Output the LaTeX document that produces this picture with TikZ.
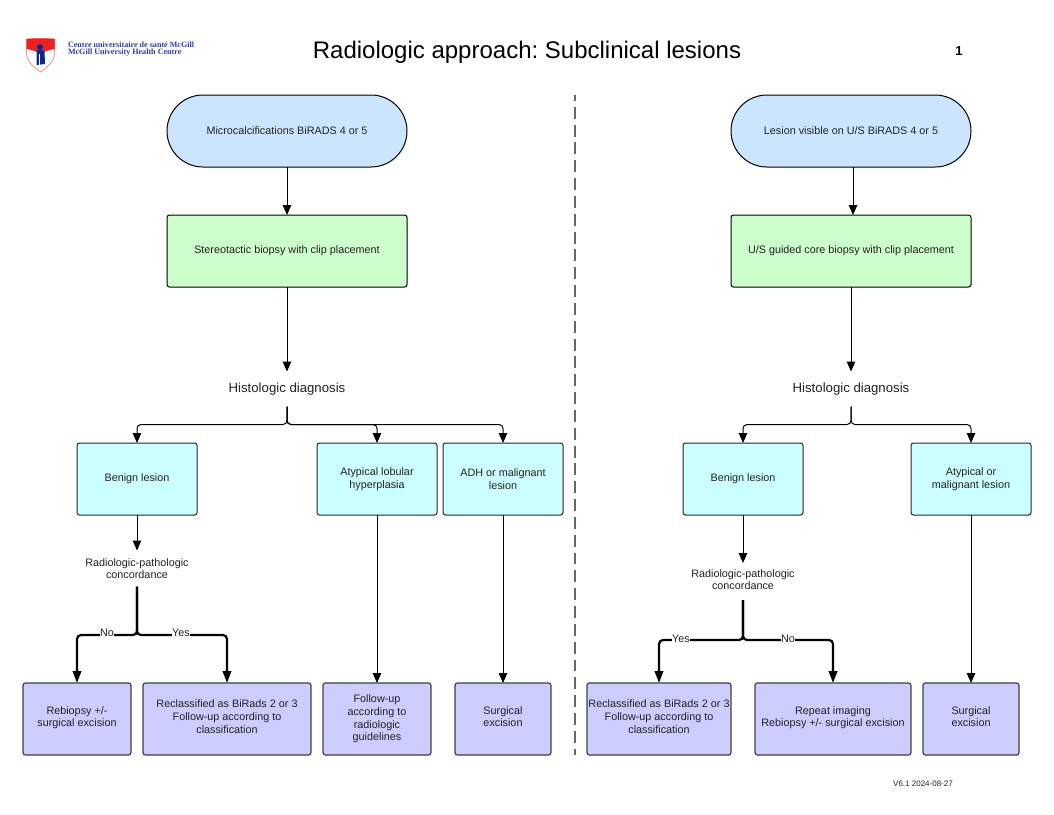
\documentclass[tikz,border=0pt]{standalone}
\usepackage{fontspec}
\setmainfont{Liberation Sans}
\newfontfamily\logofont{Liberation Serif}
\usetikzlibrary{arrows.meta,calc}
\frenchspacing
\definecolor{startc}{HTML}{CCE5FF}
\definecolor{procc}{HTML}{CCFFCC}
\definecolor{resc}{HTML}{CCFFFF}
\definecolor{endc}{HTML}{CCCCFF}
\definecolor{txtc}{HTML}{222222}
\definecolor{logoblue}{HTML}{2B3FB0}
\definecolor{logored}{HTML}{F02020}
\definecolor{logonavy}{HTML}{0B2A8C}
\newcommand\lowpad{\rule[-4.8pt]{0pt}{1pt}}
\tikzset{
  x=1pt,y=-1pt,
  every node/.style={font=\fontsize{10.8}{12.6}\selectfont,text=txtc,align=center,inner sep=0pt,outer sep=0pt},
  boxbase/.style={draw=black,line width=1pt,rounded corners=2.5pt},
  startbox/.style={boxbase,fill=startc,rounded corners=36pt,minimum width=240pt,minimum height=72pt},
  procbox/.style={boxbase,fill=procc,minimum width=240pt,minimum height=72pt},
  resbox/.style={boxbase,fill=resc,draw=black!85,minimum width=120pt,minimum height=72pt},
  endbox/.style={boxbase,fill=endc,minimum height=72pt,draw=black!75,line width=1.2pt},
  plainlbl/.style={minimum width=120pt},
  arr/.style={line width=1pt,-{Triangle[length=10pt,width=8.5pt]}},
  branch/.style={line width=1pt,rounded corners=4pt,-{Triangle[length=10pt,width=8.5pt]}},
  thickbranch/.style={line width=2.2pt,rounded corners=4pt,-{Triangle[length=12pt,width=8.5pt]}},
  edgelbl/.style={fill=white,inner sep=0.5pt}
}
\begin{document}
\begin{tikzpicture}
\useasboundingbox (0,0) rectangle (1054,814);
\fill[white] (0,0) rectangle (1054,814);
% logo
\fill[white,draw=logored!55,line width=0.7pt] (26.5,39) -- (54.5,39) -- (54.5,53) .. controls (54.5,62) and (46,68) .. (40.5,72) .. controls (35,68) and (26.5,62) .. (26.5,53) -- cycle;
\fill[logored] (26.5,39) .. controls (35,38) and (46,38) .. (54.5,39) -- (54.5,49) .. controls (48,50) and (44,52) .. (40.5,53) .. controls (37,52) and (33,50) .. (26.5,49) -- cycle;
\fill[logonavy] (40,47) circle (3pt);
\fill[logonavy] (36.5,50) .. controls (38,49.5) and (42,49.5) .. (44.5,51) -- (45,64) -- (36.5,65) -- cycle;
\fill[white] (38.8,54) rectangle (39.8,65);
\node[anchor=west,font=\logofont\bfseries\fontsize{8.1}{9}\selectfont,text=logoblue] (logoa) at (68,44.5) {Centre universitaire de santé McGill};
\node[anchor=west,font=\logofont\bfseries\fontsize{8.1}{9}\selectfont,text=logoblue] (logob) at (68,53) {McGill University Health Centre};
% headings
\node[font=\fontsize{24}{28}\selectfont,text=black] (title) at (527,52) {Radiologic approach: Subclinical lesions};
\node[font=\bfseries\fontsize{13}{15}\selectfont,text=black] (pagenum) at (959,51) {1};
\node[font=\fontsize{8}{10}\selectfont] (version) at (923,784) {V6.1 2024-08-27};
% divider
\coordinate (divtop) at (575,95);
\coordinate (divbot) at (575,755);
\draw[draw=black!60,line width=2.4pt,dash pattern=on 11.9pt off 5.93pt,dash phase=6pt] (divtop) -- (divbot);
% left column
\node[startbox] (ls) at (287,131) {Microcalcifications BiRADS 4 or 5};
\node[procbox] (lp) at (287,251) {Stereotactic biopsy with clip placement};
\node[plainlbl,font=\fontsize{13.2}{15}\selectfont,minimum height=35pt] (lh) at (287,389) {Histologic diagnosis};
\node[resbox] (lb) at (137,479) {Benign lesion};
\node[resbox] (la) at (377,479) {Atypical lobular\\hyperplasia};
\node[resbox] (lm) at (503,479) {ADH or malignant\\lesion};
\node[plainlbl,minimum height=36pt] (lc) at (137,568.5) {Radiologic-pathologic\\concordance};
\node[endbox,minimum width=108pt] (l1) at (77,719) {Rebiopsy +/-\\surgical excision\lowpad};
\node[endbox,minimum width=168pt] (l2) at (227,719) {Reclassified as BiRads 2 or 3\\Follow-up according to\\classification\lowpad};
\node[endbox,minimum width=108pt] (l3) at (377,719) {Follow-up\\according to\\radiologic\\guidelines};
\node[endbox,minimum width=96pt] (l4) at (503,719) {Surgical\\excision\lowpad};
\draw[arr] (ls) -- (lp);
\draw[arr] (lp) -- (lh);
\draw[branch] (lh.south) -- (287,424.5) -| (lb.north);
\draw[branch] (lh.south) -- (287,424.5) -| (la.north);
\draw[branch] (lh.south) -- (287,424.5) -| (lm.north);
\draw[arr] (lb) -- (lc);
\draw[arr] (la) -- (l3);
\draw[arr] (lm) -- (l4);
\draw[thickbranch] (lc.south) -- (137,635) -| (l1.north);
\draw[thickbranch] (lc.south) -- (137,635) -| (l2.north);
\node[edgelbl] (lno) at (107,633) {No};
\node[edgelbl] (lyes) at (181,633) {Yes};
% right column
\node[startbox] (rs) at (851,131) {Lesion visible on U/S BiRADS 4 or 5};
\node[procbox] (rp) at (851,251) {U/S guided core biopsy with clip placement};
\node[plainlbl,font=\fontsize{13.2}{15}\selectfont,minimum height=35pt] (rh) at (851,389) {Histologic diagnosis};
\node[resbox] (rb) at (743,479) {Benign lesion};
\node[resbox] (ra) at (971,479) {Atypical or\\malignant lesion};
\node[plainlbl,minimum height=33pt] (rc) at (743,579.5) {Radiologic-pathologic\\concordance};
\node[endbox,minimum width=144pt] (r1) at (659,719) {Reclassified as BiRads 2 or 3\\Follow-up according to\\classification\lowpad};
\node[endbox,minimum width=156pt] (r2) at (833,719) {Repeat imaging\\Rebiopsy +/- surgical excision\lowpad};
\node[endbox,minimum width=96pt] (r3) at (971,719) {Surgical\\excision\lowpad};
\coordinate (rstop) at (853,167);
\coordinate (rptop) at (853,215);
\draw[arr] (rstop) -- (rptop);
\draw[arr] (rp) -- (rh);
\draw[branch] (rh.south) -- (851,424.5) -| (rb.north);
\draw[branch] (rh.south) -- (851,424.5) -| (ra.north);
\draw[arr] (rb) -- (rc);
\draw[arr] (ra) -- (r3);
\coordinate (rcfoot) at ($(rc.south)+(0,4)$);
\draw[thickbranch] (rcfoot) -- (743,640) -| (r1.north);
\draw[thickbranch] (rcfoot) -- (743,640) -| (r2.north);
\node[edgelbl] (ryes) at (681,639) {Yes};
\node[edgelbl] (rno) at (788,639) {No};
\end{tikzpicture}
\end{document}
